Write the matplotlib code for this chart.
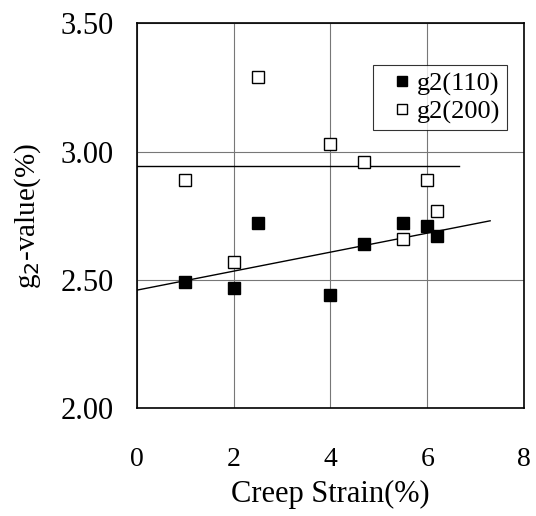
import numpy as np
import matplotlib
matplotlib.use("Agg")
import matplotlib.pyplot as plt

plt.rcParams['font.family'] = ['Liberation Serif', 'DejaVu Serif']

# g2(110) -- filled squares
strain_110 = [1.0, 2.0, 2.5, 4.0, 4.7, 5.5, 6.0, 6.2]
g2_110 = [2.49, 2.47, 2.72, 2.44, 2.64, 2.72, 2.71, 2.67]

# g2(200) -- open squares
strain_200 = [1.0, 2.5, 2.0, 4.0, 4.7, 6.0, 6.2, 5.5]
g2_200 = [2.89, 3.29, 2.57, 3.03, 2.96, 2.89, 2.77, 2.66]

# level of the flat line for g2(200) and the x range of both lines
level_200 = 2.945
fit_x_end_110 = 7.3
fit_x_end_200 = 6.65

fig = plt.figure(figsize=(5.36, 5.16), dpi=100)
ax = fig.add_axes([0.2556, 0.209, 0.722, 0.746])

ax.set_xlim(0, 8)
ax.set_ylim(2.0, 3.5)
ax.set_xticks([0, 2, 4, 6, 8])
ax.set_yticks([2.0, 2.5, 3.0, 3.5])
ax.set_yticklabels([f"{v:.2f}" for v in [2.0, 2.5, 3.0, 3.5]])
ax.grid(True, color="#777777", linewidth=0.8)
ax.set_axisbelow(True)
ax.tick_params(axis="x", length=0, labelsize=20, pad=28)
ax.tick_params(axis="y", length=0, labelsize=22, pad=17)
for s in ax.spines.values():
    s.set_linewidth(1.2)

# linear fit of g2(110)
slope, icpt = np.polyfit(strain_110, g2_110, 1)
xs = np.array([0, fit_x_end_110])
ax.plot(xs, slope * xs + icpt, color="black", linewidth=1.0, zorder=2)
ax.plot([0, fit_x_end_200], [level_200, level_200], color="black", linewidth=1.0, zorder=2)

ax.plot(strain_110, g2_110, "s", color="black", markersize=9, linestyle="none",
        label="g2(110)", zorder=3)
ax.plot(strain_200, g2_200, "s", markerfacecolor="white", markeredgecolor="black",
        markeredgewidth=1.0, markersize=9, linestyle="none", label="g2(200)", zorder=3)

leg = ax.legend(loc="upper right", bbox_to_anchor=(0.956, 0.891), fontsize=19,
                frameon=True, fancybox=False, edgecolor="black", handletextpad=-0.3,
                handlelength=1.7, borderpad=0.25, labelspacing=0.15, markerscale=0.8,
                borderaxespad=0)
leg.get_frame().set_linewidth(0.8)

ax.set_xlabel("Creep Strain(%)", fontsize=22, labelpad=6)
ax.set_ylabel("g$_2$-value(%)", fontsize=21, labelpad=12)

fig.savefig("out.png", dpi=100)
